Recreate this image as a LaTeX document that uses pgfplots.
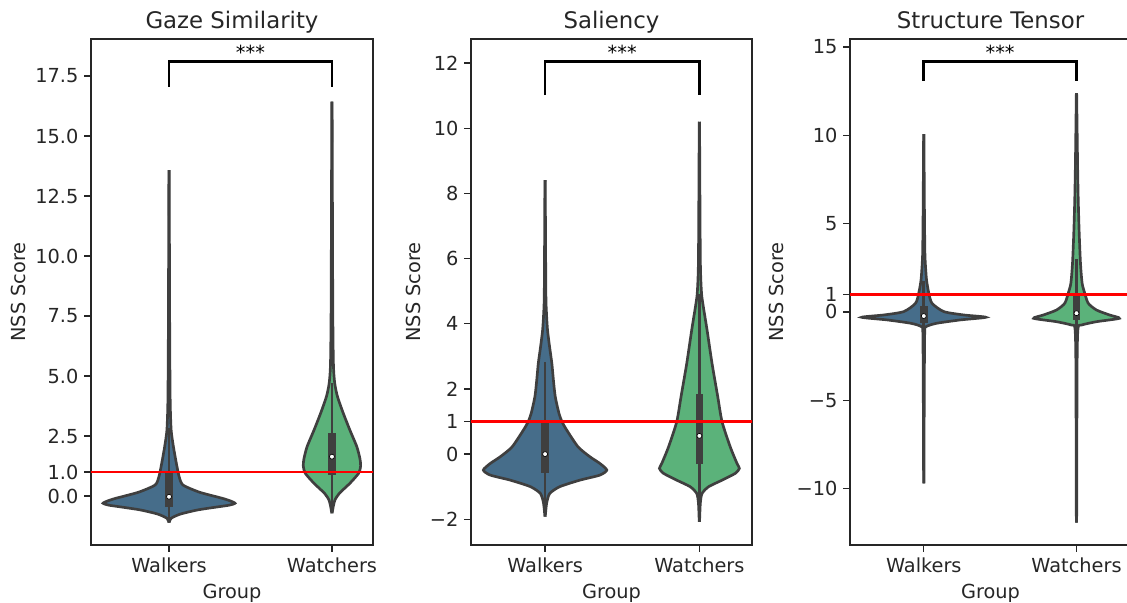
\documentclass[border=0pt]{standalone}
\usepackage{pgfplots}
\pgfplotsset{compat=1.18}
\usepackage{pgfplotstable}
\usepgfplotslibrary{fillbetween}
\usepackage{fontspec}
\setmainfont{DejaVu Sans}
\definecolor{vblue}{RGB}{70,109,138}
\definecolor{vgreen}{RGB}{91,178,122}
\definecolor{vgray}{RGB}{63,63,63}

% violin half-width profiles (y, half width)
\pgfplotstableread{
y w
-1.11 0.001
-0.93 0.012
-0.75 0.07
-0.58 0.175
-0.47 0.28
-0.38 0.37
-0.30 0.405
-0.20 0.375
-0.10 0.33
0.04 0.25
0.18 0.178
0.46 0.085
0.81 0.062
1.36 0.045
2.05 0.027
2.75 0.013
4.0 0.007
7.0 0.004
13.58 0.001
}\tabAa
\pgfplotstableread{
y w
-0.72 0.001
-0.44 0.008
-0.17 0.018
0.11 0.045
0.53 0.11
0.95 0.164
1.25 0.176
1.55 0.172
2.05 0.153
2.75 0.11
3.44 0.07
4.14 0.034
4.7 0.017
5.5 0.009
8.0 0.005
16.43 0.001
}\tabAb
\pgfplotstableread{
y w
-1.92 0.001
-1.51 0.01
-1.21 0.03
-1.0 0.095
-0.80 0.225
-0.645 0.355
-0.49 0.40
-0.29 0.356
-0.08 0.29
0.22 0.214
0.74 0.14
0.99 0.11
1.25 0.09
1.76 0.066
2.27 0.054
2.78 0.044
3.3 0.029
3.8 0.016
4.33 0.009
5.0 0.005
8.41 0.001
}\tabBa
\pgfplotstableread{
y w
-2.08 0.001
-1.51 0.006
-1.21 0.017
-1.0 0.06
-0.80 0.147
-0.59 0.233
-0.44 0.259
-0.29 0.244
0.22 0.20
0.99 0.147
1.76 0.119
2.78 0.082
3.8 0.05
4.63 0.022
5.0 0.013
6.0 0.006
10.2 0.001
}\tabBb
\pgfplotstableread{
y w
-9.7 0.001
-5 0.003
-1.2 0.006
-0.83 0.016
-0.64 0.085
-0.45 0.24
-0.30 0.406
-0.17 0.262
0.02 0.131
0.49 0.054
1.06 0.033
1.81 0.018
2.77 0.01
3.5 0.007
6 0.004
10.07 0.001
}\tabCa
\pgfplotstableread{
y w
-11.92 0.001
-3 0.004
-0.92 0.01
-0.74 0.033
-0.55 0.131
-0.36 0.28
-0.17 0.216
0.11 0.131
0.49 0.077
1.06 0.054
1.62 0.037
2.76 0.026
4.64 0.017
6.5 0.011
8.4 0.007
12.38 0.001
}\tabCb

% #1 center, #2 colour, #3 table, #4 q1, #5 q3, #6 median, #7 low whisker, #8 high whisker
\newcommand{\violin}[8]{%
\addplot[draw=none, name path=vr, smooth, tension=0.4, forget plot] table[x expr=#1+\thisrow{w}, y=y]{#3};
\addplot[draw=none, name path=vl, smooth, tension=0.4, forget plot] table[x expr=#1-\thisrow{w}, y=y]{#3};
\addplot[fill=#2, draw=none, forget plot] fill between[of=vr and vl];
\addplot[draw=vgray, line width=1.6pt, smooth, tension=0.4, forget plot] table[x expr=#1+\thisrow{w}, y=y]{#3};
\addplot[draw=vgray, line width=1.6pt, smooth, tension=0.4, forget plot] table[x expr=#1-\thisrow{w}, y=y]{#3};
\addplot[draw=vgray, line width=1.6pt, forget plot] coordinates {(#1,#7) (#1,#8)};
\addplot[draw=vgray, line width=4.5pt, forget plot] coordinates {(#1,#4) (#1,#5)};
\addplot[only marks, mark=*, mark size=1.5pt, mark options={fill=white, draw=none}, forget plot] coordinates {(#1,#6)};
}

\pgfplotsset{vstyle/.style={
  scale only axis, height=303.6pt,
  anchor=south west,
  axis line style={black!85, line width=0.8pt},
  tick style={black!85, line width=0.8pt},
  major tick length=4pt, tick align=outside, tick pos=left,
  minor tick num=0,
  xtick={0,1}, xticklabels={Walkers,Watchers},
  tick label style={font=\fontsize{11.6}{13}\selectfont, text=black!85},
  label style={font=\fontsize{11.6}{13}\selectfont, text=black!85},
  title style={font=\fontsize{13.7}{15}\selectfont, text=black!85, at={(0.5,1)}, anchor=base, yshift=0.3pt},
  xlabel={Group}, ylabel={NSS Score},
  xlabel style={at={(axis description cs:0.5,-0.105)}, anchor=base},
  clip=true,
}}

\begin{document}
\begin{tikzpicture}
% Panel 1
\begin{axis}[vstyle, at={(54.6pt,34.2pt)}, width=169.2pt,
  title={Gaze Similarity},
  xmin=-0.479, xmax=1.252, ymin=-2.04, ymax=19.04,
  ytick={0,1,2.5,5,7.5,10,12.5,15,17.5},
  yticklabels={0.0,1.0,2.5,5.0,7.5,10.0,12.5,15.0,17.5},
  ylabel style={at={(axis description cs:-0.259,0.5)}, anchor=center}]
\violin{0}{vblue}{\tabAa}{-0.46}{1.01}{-0.03}{-1.05}{2.83}
\violin{1}{vgreen}{\tabAb}{0.875}{2.61}{1.64}{-0.7}{4.7}
\addplot[black, line width=1.6pt, forget plot] coordinates {(0,17.05) (0,18.1) (1,18.1) (1,17.05)};
\node[anchor=base, inner sep=0pt, font=\fontsize{11.6}{13}\selectfont] at (axis cs:0.5,18.1) [yshift=1.2pt] {***};
\addplot[red, line width=1.5pt, forget plot] coordinates {(-1,1) (2,1)};
\end{axis}
% Panel 2
\begin{axis}[vstyle, at={(282.6pt,34.2pt)}, width=168.6pt,
  title={Saliency},
  xmin=-0.48, xmax=1.341, ymin=-2.79, ymax=12.74,
  ytick={-2,0,1,2,4,6,8,10,12},
  yticklabels={−2,0,1,2,4,6,8,10,12},
  ylabel style={at={(axis description cs:-0.206,0.5)}, anchor=center}]
\violin{0}{vblue}{\tabBa}{-0.57}{0.94}{0.0}{-1.85}{2.83}
\violin{1}{vgreen}{\tabBb}{-0.31}{1.83}{0.56}{-2.0}{4.9}
\addplot[black, line width=1.6pt, forget plot] coordinates {(0,11.02) (0,12.04) (1,12.04) (1,11.02)};
\node[anchor=base, inner sep=0pt, font=\fontsize{11.6}{13}\selectfont] at (axis cs:0.5,12.04) [yshift=1.2pt] {***};
\addplot[red, line width=1.5pt, forget plot] coordinates {(-1,1) (2,1)};
\end{axis}
% Panel 3
\begin{axis}[vstyle, at={(510pt,34.2pt)}, width=168.6pt,
  title={Structure Tensor},
  xmin=-0.483, xmax=1.357, ymin=-13.19, ymax=15.45,
  ytick={-10,-5,0,1,5,10,15},
  yticklabels={−10,−5,0,1,5,10,15},
  ylabel style={at={(axis description cs:-0.26,0.5)}, anchor=center}]
\violin{0}{vblue}{\tabCa}{-0.6}{0.34}{-0.23}{-2.0}{1.75}
\violin{1}{vgreen}{\tabCb}{-0.45}{0.96}{-0.07}{-2.5}{3.0}
\addplot[black, line width=1.6pt, forget plot] coordinates {(0,13.09) (0,14.17) (1,14.17) (1,13.09)};
\node[anchor=base, inner sep=0pt, font=\fontsize{11.6}{13}\selectfont] at (axis cs:0.5,14.17) [yshift=1.2pt] {***};
\addplot[red, line width=1.5pt, forget plot] coordinates {(-1,1) (2,1)};
\end{axis}
\pgfresetboundingbox
\path[use as bounding box] (0,0) rectangle (676.2pt,361.2pt);
\end{tikzpicture}
\end{document}
